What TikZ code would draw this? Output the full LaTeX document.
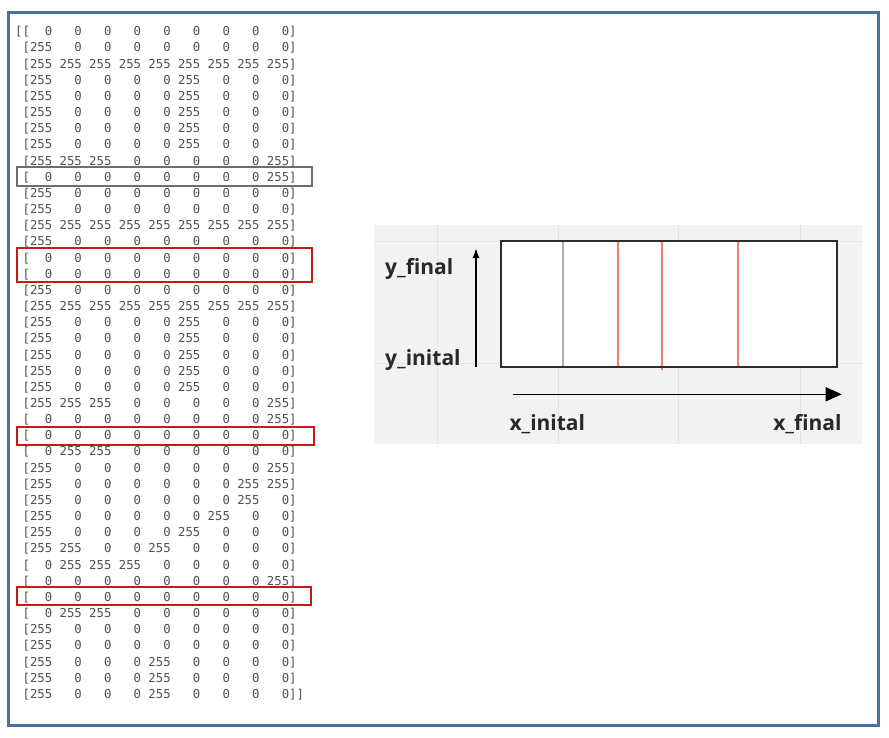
\documentclass[tikz,border=0pt]{standalone}
\usepackage{fontspec}
\setmainfont{Open Sans}
\newfontfamily\monof{DejaVu Sans Mono}
\usetikzlibrary{arrows.meta}
\definecolor{framec}{RGB}{74,114,160}
\definecolor{txtc}{RGB}{80,80,80}
\definecolor{grayboxc}{RGB}{110,110,110}
\definecolor{redboxc}{RGB}{200,25,25}
\definecolor{panelbg}{RGB}{242,242,242}
\definecolor{gridc}{RGB}{228,228,228}
\definecolor{rectc}{RGB}{45,45,45}
\definecolor{salmonc}{RGB}{232,130,110}
\definecolor{lgrayc}{RGB}{175,175,175}
\definecolor{labc}{RGB}{40,40,40}
\newlength\cw
\setlength\cw{7.405pt}
\newcommand\cel[1]{\makebox[3\cw][r]{#1}}
\newcommand\mr[9]{[\cel{#1}\hspace{\cw}\cel{#2}\hspace{\cw}\cel{#3}\hspace{\cw}\cel{#4}\hspace{\cw}\cel{#5}\hspace{\cw}\cel{#6}\hspace{\cw}\cel{#7}\hspace{\cw}\cel{#8}\hspace{\cw}\cel{#9}]}
\newcommand\ld{\hspace{\cw}}
\newcommand\RY[1]{35.8+16.16*(#1-1)}
\begin{document}
\begin{tikzpicture}[x=1pt,y=-1pt,
  mtx/.style={anchor=base west, inner sep=0pt, text=txtc, font=\monof\fontsize{12.3}{14}\selectfont},
  lab/.style={inner sep=0pt, text=labc, font=\bfseries\fontsize{21}{24}\selectfont},
  graybox/.style={draw=grayboxc, line width=2pt},
  redbox/.style={draw=redboxc, line width=2pt},
  axis/.style={draw=black, line width=1.4pt}]
\useasboundingbox (0,0) rectangle (889,737);
\fill[white] (0,0) rectangle (889,737);
% outer frame
\draw[framec, line width=2.7pt] (8.7,12.8) rectangle (878.8,725.5);
% matrix rows
\node[mtx] (r1) at (15,{\RY{1}}) {[\mr{0}{0}{0}{0}{0}{0}{0}{0}{0}};
\node[mtx] (r2) at (15,{\RY{2}}) {\ld\mr{255}{0}{0}{0}{0}{0}{0}{0}{0}};
\node[mtx] (r3) at (15,{\RY{3}}) {\ld\mr{255}{255}{255}{255}{255}{255}{255}{255}{255}};
\node[mtx] (r4) at (15,{\RY{4}}) {\ld\mr{255}{0}{0}{0}{0}{255}{0}{0}{0}};
\node[mtx] (r5) at (15,{\RY{5}}) {\ld\mr{255}{0}{0}{0}{0}{255}{0}{0}{0}};
\node[mtx] (r6) at (15,{\RY{6}}) {\ld\mr{255}{0}{0}{0}{0}{255}{0}{0}{0}};
\node[mtx] (r7) at (15,{\RY{7}}) {\ld\mr{255}{0}{0}{0}{0}{255}{0}{0}{0}};
\node[mtx] (r8) at (15,{\RY{8}}) {\ld\mr{255}{0}{0}{0}{0}{255}{0}{0}{0}};
\node[mtx] (r9) at (15,{\RY{9}}) {\ld\mr{255}{255}{255}{0}{0}{0}{0}{0}{255}};
\node[mtx] (r10) at (15,{\RY{10}}) {\ld\mr{0}{0}{0}{0}{0}{0}{0}{0}{255}};
\node[mtx] (r11) at (15,{\RY{11}}) {\ld\mr{255}{0}{0}{0}{0}{0}{0}{0}{0}};
\node[mtx] (r12) at (15,{\RY{12}}) {\ld\mr{255}{0}{0}{0}{0}{0}{0}{0}{0}};
\node[mtx] (r13) at (15,{\RY{13}}) {\ld\mr{255}{255}{255}{255}{255}{255}{255}{255}{255}};
\node[mtx] (r14) at (15,{\RY{14}}) {\ld\mr{255}{0}{0}{0}{0}{0}{0}{0}{0}};
\node[mtx] (r15) at (15,{\RY{15}}) {\ld\mr{0}{0}{0}{0}{0}{0}{0}{0}{0}};
\node[mtx] (r16) at (15,{\RY{16}}) {\ld\mr{0}{0}{0}{0}{0}{0}{0}{0}{0}};
\node[mtx] (r17) at (15,{\RY{17}}) {\ld\mr{255}{0}{0}{0}{0}{0}{0}{0}{0}};
\node[mtx] (r18) at (15,{\RY{18}}) {\ld\mr{255}{255}{255}{255}{255}{255}{255}{255}{255}};
\node[mtx] (r19) at (15,{\RY{19}}) {\ld\mr{255}{0}{0}{0}{0}{255}{0}{0}{0}};
\node[mtx] (r20) at (15,{\RY{20}}) {\ld\mr{255}{0}{0}{0}{0}{255}{0}{0}{0}};
\node[mtx] (r21) at (15,{\RY{21}}) {\ld\mr{255}{0}{0}{0}{0}{255}{0}{0}{0}};
\node[mtx] (r22) at (15,{\RY{22}}) {\ld\mr{255}{0}{0}{0}{0}{255}{0}{0}{0}};
\node[mtx] (r23) at (15,{\RY{23}}) {\ld\mr{255}{0}{0}{0}{0}{255}{0}{0}{0}};
\node[mtx] (r24) at (15,{\RY{24}}) {\ld\mr{255}{255}{255}{0}{0}{0}{0}{0}{255}};
\node[mtx] (r25) at (15,{\RY{25}}) {\ld\mr{0}{0}{0}{0}{0}{0}{0}{0}{255}};
\node[mtx] (r26) at (15,{\RY{26}}) {\ld\mr{0}{0}{0}{0}{0}{0}{0}{0}{0}};
\node[mtx] (r27) at (15,{\RY{27}}) {\ld\mr{0}{255}{255}{0}{0}{0}{0}{0}{0}};
\node[mtx] (r28) at (15,{\RY{28}}) {\ld\mr{255}{0}{0}{0}{0}{0}{0}{0}{255}};
\node[mtx] (r29) at (15,{\RY{29}}) {\ld\mr{255}{0}{0}{0}{0}{0}{0}{255}{255}};
\node[mtx] (r30) at (15,{\RY{30}}) {\ld\mr{255}{0}{0}{0}{0}{0}{0}{255}{0}};
\node[mtx] (r31) at (15,{\RY{31}}) {\ld\mr{255}{0}{0}{0}{0}{0}{255}{0}{0}};
\node[mtx] (r32) at (15,{\RY{32}}) {\ld\mr{255}{0}{0}{0}{0}{255}{0}{0}{0}};
\node[mtx] (r33) at (15,{\RY{33}}) {\ld\mr{255}{255}{0}{0}{255}{0}{0}{0}{0}};
\node[mtx] (r34) at (15,{\RY{34}}) {\ld\mr{0}{255}{255}{255}{0}{0}{0}{0}{0}};
\node[mtx] (r35) at (15,{\RY{35}}) {\ld\mr{0}{0}{0}{0}{0}{0}{0}{0}{255}};
\node[mtx] (r36) at (15,{\RY{36}}) {\ld\mr{0}{0}{0}{0}{0}{0}{0}{0}{0}};
\node[mtx] (r37) at (15,{\RY{37}}) {\ld\mr{0}{255}{255}{0}{0}{0}{0}{0}{0}};
\node[mtx] (r38) at (15,{\RY{38}}) {\ld\mr{255}{0}{0}{0}{0}{0}{0}{0}{0}};
\node[mtx] (r39) at (15,{\RY{39}}) {\ld\mr{255}{0}{0}{0}{0}{0}{0}{0}{0}};
\node[mtx] (r40) at (15,{\RY{40}}) {\ld\mr{255}{0}{0}{0}{255}{0}{0}{0}{0}};
\node[mtx] (r41) at (15,{\RY{41}}) {\ld\mr{255}{0}{0}{0}{255}{0}{0}{0}{0}};
\node[mtx] (r42) at (15,{\RY{42}}) {\ld\mr{255}{0}{0}{0}{255}{0}{0}{0}{0}]};
% highlight boxes
\draw[graybox] (17,167) rectangle (311.7,186);
\draw[redbox] (17.3,247.7) rectangle (311.7,281.7);
\draw[redbox] (17,427) rectangle (314,445);
\draw[redbox] (16.7,587.3) rectangle (310.7,605);
% right panel
\fill[panelbg] (374,225) rectangle (862,444);
\foreach \gx in {437,558,678,800} \draw[gridc, line width=0.8pt] (\gx,225) -- (\gx,444);
\foreach \gy in {241.7,363.3} \draw[gridc, line width=0.8pt] (374,\gy) -- (862,\gy);
\fill[white] (500.7,240.7) rectangle (836.7,366.7);
\draw[lgrayc, line width=1.8pt] (562.7,240.7) -- (562.7,366.7);
\draw[salmonc, line width=1.8pt] (618.3,240.7) -- (618.3,366.7);
\draw[salmonc, line width=1.8pt] (661.7,240.7) -- (661.7,370);
\draw[salmonc, line width=1.8pt] (738.3,240.7) -- (738.3,366.7);
\draw[rectc, line width=2.2pt] (500.7,240.7) rectangle (836.7,366.7);
% axes
\coordinate (ya) at (476,366.7);
\coordinate (yb) at (476,248);
\coordinate (xa) at (512.7,394.3);
\coordinate (xb) at (841.7,394.3);
\draw[axis, -{Latex[length=10pt,width=7pt]}] (ya) -- (yb);
\draw[axis, -{Triangle[length=16pt,width=14pt]}] (xa) -- (xb);
% labels
\node[lab, anchor=base west] (yfin) at (385,274.3) {y\_final};
\node[lab, anchor=base west] (yini) at (385,365.7) {y\_inital};
\node[lab, anchor=base west] (xini) at (509.3,430.7) {x\_inital};
\node[lab, anchor=base east] (xfin) at (841.7,430.7) {x\_final};
\end{tikzpicture}
\end{document}
